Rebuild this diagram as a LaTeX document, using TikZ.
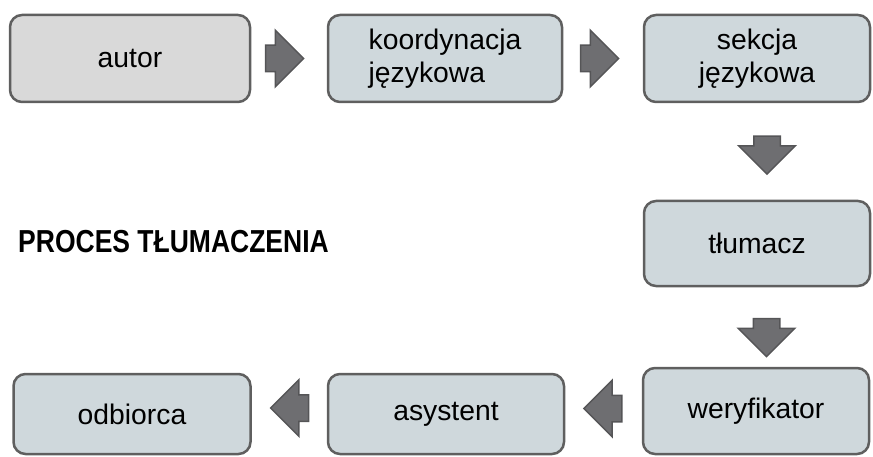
\documentclass[tikz,border=0pt]{standalone}
\usepackage{fontspec}
\setmainfont{Liberation Sans}
\usepackage{xcolor}
\usepackage{graphicx}
\usepackage{tikz}
\usetikzlibrary{shapes.arrows,calc}
\definecolor{boxgrey}{RGB}{217,217,217}
\definecolor{boxblue}{RGB}{207,216,220}
\definecolor{edgegrey}{RGB}{95,95,95}
\definecolor{arrowgrey}{RGB}{110,110,113}
\definecolor{arrowedge}{RGB}{85,85,87}

\begin{document}
\begin{tikzpicture}[x=1pt, y=-1pt,
                    box/.style={draw=edgegrey, line width=2.5pt, rounded corners=12pt,
                                fill=boxblue, inner sep=0pt,
                                font=\fontsize{28.3}{33}\selectfont},
                    blockarrow/.style={single arrow, draw=arrowedge, fill=arrowgrey,
                                line width=1.5pt, inner sep=0pt, minimum height=38pt,
                                single arrow head extend=15pt,
                                single arrow head indent=0pt},
                   ]

\useasboundingbox (0,0) rectangle (873,457);

% top row
\draw (130,58.5) node[box, fill=boxgrey, minimum width=240pt, minimum height=87pt] (autor) {autor};
\draw (445,58.5) node[box, minimum width=234pt, minimum height=87pt, align=left] (koord) {koordynacja\\językowa};
\draw (757,58.5) node[box, minimum width=226pt, minimum height=87pt, align=center] (sekcja) {sekcja\\językowa};

% right column
\draw (757,243.5) node[box, minimum width=226pt, minimum height=85pt] (tlumacz) {tłumacz};
\draw (756,411) node[box, minimum width=226pt, minimum height=86pt] (weryf) {weryfikator};

% bottom row
\draw (446,414) node[box, minimum width=236pt, minimum height=80pt] (asyst) {asystent};
\draw (132,414) node[box, minimum width=237pt, minimum height=80pt] (odbior) {odbiorca};

\draw (18,252) node[anchor=base west, inner sep=0pt,
      font=\fontsize{26.5}{30}\selectfont\bfseries] (tytul) {\scalebox{1}[1.2]{PROCES TŁUMACZENIA}};

% arrows
\node[blockarrow] (a1) at ($(autor.east)!0.5!(koord.west)+(-11,0)$) {\rule{0pt}{25pt}};
\node[blockarrow] (a2) at ($(koord.east)!0.5!(sekcja.west)+(-10,0)$) {\rule{0pt}{25pt}};
\node[blockarrow, rotate=-90] (a3) at ($(sekcja.south)!0.5!(tlumacz.north)+(10,-3)$) {\rule{0pt}{25pt}};
\node[blockarrow, rotate=-90] (a4) at ($(tlumacz.south)!0.5!(weryf.north)+(10,4)$) {\rule{0pt}{25pt}};
\node[blockarrow, rotate=180] (a5) at ($(weryf.west)!0.5!(asyst.east)+(6,-4)$) {\rule{0pt}{25pt}};
\node[blockarrow, rotate=180] (a6) at ($(asyst.west)!0.5!(odbior.east)+(7,-6)$) {\rule{0pt}{25pt}};

\end{tikzpicture}
\end{document}
